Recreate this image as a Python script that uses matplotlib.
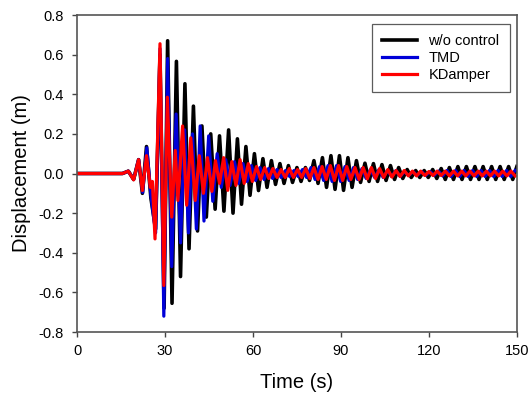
"""Displacement time history: uncontrolled vs TMD vs KDamper."""
import matplotlib
matplotlib.use("Agg")
import matplotlib.pyplot as plt
from matplotlib.ticker import FormatStrFormatter
import numpy as np

plt.rcParams["font.family"] = ["Liberation Sans", "DejaVu Sans"]
plt.rcParams["axes.unicode_minus"] = False

# --- values (turning points of each trace) ---
# w/o control
black_pre_t = [0, 15.5, 17.5, 19.3, 21.0, 22.3, 23.7, 25.2, 26.8, 28.3, 29.7]
black_pre_v = [0, 0, 0.012, -0.03, 0.07, -0.10, 0.136, -0.125, -0.28, 0.60, -0.68]
black_peak_t = [30.9, 33.9, 36.8, 39.7, 42.6, 45.6, 48.6, 51.7, 54.7, 57.6,
                60.5, 63.4, 66.3, 69.2, 72.1, 75.0, 77.9, 80.8, 83.7, 86.6,
                89.5, 92.4, 95.3, 98.2, 101.1, 104.0, 106.9, 109.7, 112.6, 115.5,
                118.4, 121.3, 124.2, 127.0, 129.9, 132.8, 135.7, 138.5, 141.4, 144.3,
                147.2, 150.0]
black_peak_v = [0.67, 0.566, 0.453, 0.34, 0.24, 0.20, 0.19, 0.22, 0.175, 0.136,
                0.10, 0.075, 0.065, 0.05, 0.04, 0.03, 0.03, 0.065, 0.08, 0.09,
                0.09, 0.08, 0.065, 0.052, 0.05, 0.045, 0.04, 0.03, 0.02, 0.015,
                0.015, 0.02, 0.025, 0.03, 0.035, 0.035, 0.035, 0.035, 0.035, 0.035,
                0.035, 0.035]
black_trough_t = [32.4, 35.3, 38.2, 41.1, 44.1, 47.1, 50.1, 53.2, 56.1, 59.0,
                  61.9, 64.8, 67.7, 70.6, 73.5, 76.4, 79.3, 82.2, 85.1, 88.0,
                  90.9, 93.8, 96.7, 99.6, 102.5, 105.4, 108.3, 111.1, 114.0, 116.9,
                  119.8, 122.7, 125.6, 128.4, 131.3, 134.2, 137.1, 139.9, 142.8, 145.7,
                  148.6]
black_trough_v = [-0.655, -0.52, -0.38, -0.29, -0.22, -0.18, -0.19, -0.20, -0.155, -0.11,
                  -0.086, -0.07, -0.055, -0.05, -0.045, -0.04, -0.035, -0.05, -0.07, -0.08,
                  -0.085, -0.07, -0.045, -0.04, -0.04, -0.035, -0.03, -0.025, -0.02, -0.02,
                  -0.02, -0.025, -0.03, -0.03, -0.03, -0.03, -0.03, -0.03, -0.03, -0.03,
                  -0.03]

# TMD
blue_pre_t = [0, 15.5, 17.5, 19.3, 21.0, 22.4, 23.8, 25.2, 26.8, 28.3, 29.6]
blue_pre_v = [0, 0, 0.012, -0.03, 0.07, -0.095, 0.13, -0.11, -0.30, 0.63, -0.72]
blue_peak_t = [30.9, 33.8, 36.7, 39.4, 42.0, 44.9, 47.8, 50.7, 53.7, 56.6,
               59.5, 62.4, 65.3, 68.2, 71.1, 74.0, 76.9, 79.8, 82.7, 85.6,
               88.5, 91.4, 94.3, 97.2, 100.1, 103.0, 105.9, 108.8, 111.7, 114.6,
               117.5, 120.4, 123.3, 126.2, 129.1, 132.0, 134.9, 137.8, 140.7, 143.6,
               146.5, 149.4]
blue_peak_v = [0.58, 0.30, 0.22, 0.20, 0.24, 0.19, 0.10, 0.07, 0.06, 0.05,
               0.04, 0.03, 0.025, 0.02, 0.015, 0.015, 0.02, 0.03, 0.035, 0.04,
               0.04, 0.035, 0.03, 0.025, 0.02, 0.02, 0.015, 0.015, 0.01, 0.01,
               0.01, 0.01, 0.012, 0.015, 0.015, 0.015, 0.015, 0.015, 0.015, 0.015,
               0.015, 0.015]
blue_trough_t = [32.3, 35.3, 38.0, 40.7, 43.3, 46.3, 49.2, 52.2, 55.1, 58.0,
                 60.9, 63.8, 66.7, 69.6, 72.5, 75.4, 78.3, 81.2, 84.1, 87.0,
                 89.9, 92.8, 95.7, 98.6, 101.5, 104.4, 107.3, 110.2, 113.1, 116.0,
                 118.9, 121.8, 124.7, 127.6, 130.5, 133.4, 136.3, 139.2, 142.1, 145.0,
                 147.9]
blue_trough_v = [-0.47, -0.35, -0.30, -0.28, -0.24, -0.14, -0.07, -0.06, -0.05, -0.04,
                 -0.035, -0.03, -0.025, -0.02, -0.015, -0.015, -0.02, -0.03, -0.035, -0.04,
                 -0.04, -0.035, -0.03, -0.025, -0.02, -0.02, -0.015, -0.015, -0.01, -0.01,
                 -0.01, -0.01, -0.012, -0.015, -0.015, -0.015, -0.015, -0.015, -0.015, -0.015,
                 -0.015]

# KDamper
red_pre_t = [0, 15.5, 17.5, 19.3, 21.0, 22.3, 23.7, 25.0, 25.7, 26.6, 28.3, 29.6]
red_pre_v = [0, 0, 0.012, -0.032, 0.07, -0.086, 0.09, -0.07, -0.04, -0.33, 0.655, -0.565]
red_peak_t = [30.8, 33.5, 36.0, 38.8, 41.7, 44.5, 47.2,
              50.0, 52.8, 55.6, 58.4, 61.2, 64.0, 66.8, 69.6, 72.4, 75.2,
              78.0, 80.8, 83.6, 86.4, 89.2, 92.0, 94.8, 97.6, 100.4, 103.2,
              106.0, 108.8, 111.6, 114.4, 117.2, 120.0, 122.8, 125.6, 128.4, 131.2,
              134.0, 136.8, 139.6, 142.4, 145.2, 148.0]
red_peak_v = [0.385, 0.116, 0.24, 0.18, 0.09, 0.08, 0.065,
              0.08, 0.06, 0.07, 0.05, 0.035, 0.03, 0.025, 0.02, 0.025, 0.02,
              0.025, 0.03, 0.035, 0.04, 0.04, 0.035, 0.03, 0.03, 0.03, 0.025,
              0.02, 0.015, 0.015, 0.012, 0.012, 0.01, 0.012, 0.012, 0.012, 0.012,
              0.012, 0.012, 0.012, 0.012, 0.012, 0.012]
red_trough_t = [32.3, 34.4, 37.4, 40.3, 43.1, 46.0, 48.6,
                51.4, 54.2, 57.0, 59.8, 62.6, 65.4, 68.2, 71.0, 73.8, 76.6,
                79.4, 82.2, 85.0, 87.8, 90.6, 93.4, 96.2, 99.0, 101.8, 104.6,
                107.4, 110.2, 113.0, 115.8, 118.6, 121.4, 124.2, 127.0, 129.8,
                132.6, 135.4, 138.2, 141.0, 143.8, 146.6, 149.4]
red_trough_v = [-0.22, -0.136, -0.16, -0.136, -0.10, -0.09, -0.05,
                -0.085, -0.06, -0.05, -0.04, -0.03, -0.025, -0.02, -0.02, -0.02, -0.02,
                -0.025, -0.03, -0.03, -0.035, -0.035, -0.03, -0.03, -0.027, -0.025, -0.02,
                -0.018, -0.015, -0.012, -0.012, -0.01, -0.01, -0.01, -0.012, -0.012,
                -0.012, -0.012, -0.012, -0.012, -0.012, -0.012, -0.012]

labels = ["w/o control", "TMD", "KDamper"]
colors = ["black", "#0000d8", "#ff0000"]
x_ticks = [0, 30, 60, 90, 120, 150]
y_ticks = [-0.8, -0.6, -0.4, -0.2, 0.0, 0.2, 0.4, 0.6, 0.8]


def _trace(pre_t, pre_v, pk_t, pk_v, tr_t, tr_v):
    t = np.concatenate([pre_t, pk_t, tr_t])
    v = np.concatenate([pre_v, pk_v, tr_v])
    order = np.argsort(t, kind="stable")
    return t[order], v[order]


series = [
    _trace(black_pre_t, black_pre_v, black_peak_t, black_peak_v, black_trough_t, black_trough_v),
    _trace(blue_pre_t, blue_pre_v, blue_peak_t, blue_peak_v, blue_trough_t, blue_trough_v),
    _trace(red_pre_t, red_pre_v, red_peak_t, red_peak_v, red_trough_t, red_trough_v),
]

fig = plt.figure(figsize=(5.29, 3.98), dpi=100)
ax = fig.add_axes([0.1456, 0.1658, 0.8314, 0.7965])

widths = [2.6, 2.3, 2.3]
for (t, v), lab, col, lw in zip(series, labels, colors, widths):
    ax.plot(t, v, color=col, lw=lw, label=lab, solid_joinstyle="round")

ax.set_xlim(0, 150)
ax.set_ylim(-0.8, 0.8)
ax.set_xticks(x_ticks)
ax.set_yticks(y_ticks)
ax.yaxis.set_major_formatter(FormatStrFormatter("%.1f"))
ax.tick_params(direction="out", length=3.6, width=1, colors="#444444",
               labelcolor="black", labelsize=10.5, top=False, right=False)
ax.tick_params(axis="y", pad=6)
ax.tick_params(axis="x", pad=5)
for s in ax.spines.values():
    s.set_color("#555555")
    s.set_linewidth(1.2)

ax.set_xlabel("Time (s)", fontsize=14.5)
ax.xaxis.set_label_coords(0.5, -0.13)
ax.set_ylabel("Displacement (m)", fontsize=14.5)
ax.yaxis.set_label_coords(-0.105, 0.5)

leg = ax.legend(loc="upper right", bbox_to_anchor=(0.984, 0.972), fontsize=10.5,
                frameon=True, fancybox=False, edgecolor="#333333",
                handlelength=2.4, handletextpad=0.8, borderaxespad=0,
                labelspacing=0.2, borderpad=0.7)
leg.get_frame().set_linewidth(0.9)

fig.savefig("out.png", dpi=100)
plt.close(fig)
